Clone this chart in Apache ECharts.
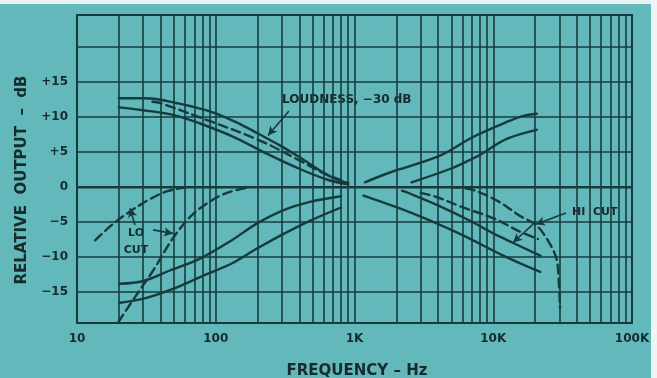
<!DOCTYPE html>
<html><head><meta charset="utf-8">
<script src="https://cdn.jsdelivr.net/npm/echarts@6/dist/echarts.min.js"></script>
<style>html,body{margin:0;padding:0;background:#62b8ba;}#c{width:657px;height:378px;}</style>
</head><body><div id="c"></div>
<script>
// ---- axis ticks / labels ----
const xTickValues = [10,20,30,40,50,60,70,80,90,
  100,200,300,400,500,600,700,800,900,
  1000,2000,3000,4000,5000,6000,7000,8000,9000,
  10000,20000,30000,40000,50000,60000,70000,80000,90000,100000];
const xLabelValues = [10,100,1000,10000,100000];
const xLabelText = ['10','100','1K','10K','100K'];
const yTickValues = [-15,-10,-5,0,5,10,15,20];
const yLabelValues = [-15,-10,-5,0,5,10,15];
const yLabelText = ['\u221215','\u221210','\u22125','0','+5','+10','+15'];

// ---- curves: [frequency Hz, dB] ----
const flatResponse = [[10,0],[100000,0]];
const bassBoostA = [[20,12.7],[30,12.7],[40,12.5],[50,12.1],[65,11.6],[95,10.7],[140,9.3],[200,7.7],[300,5.8],[400,4.3],[630,1.8],[800,0.9],[900,0.5]];
const bassBoostB = [[20,11.4],[30,11.0],[50,10.3],[77,9.1],[134,7.2],[233,4.8],[404,2.6],[632,1.1],[900,0.4]];
const loudness = [[35,12.2],[40,12.0],[81,9.8],[206,6.7],[404,3.8],[600,2.0],[900,0.6]];
const loCutA = [[13.5,-7.6],[18.3,-5.2],[24.8,-3.3],[33.6,-1.7],[44.3,-0.6],[62,0]];
const loCutB = [[19.8,-19.3],[27,-15.3],[35.4,-11.9],[49.5,-7.2],[68.9,-3.8],[101,-1.5],[130,-0.6],[177,0]];
const bassCutA = [[20.3,-13.8],[30,-13.4],[46.7,-11.9],[77,-10.2],[130,-7.6],[197,-5.2],[306,-3.3],[477,-2.1],[800,-1.3]];
const bassCutB = [[20.3,-16.5],[31.7,-15.8],[52.5,-14.3],[80,-12.7],[130,-10.9],[197,-8.8],[306,-6.7],[477,-4.8],[800,-2.9]];
const trebleBoostA = [[1190,0.7],[1800,2.1],[4130,4.5],[7200,7.2],[13200,9.5],[16500,10.2],[20600,10.5]];
const trebleBoostB = [[2580,0.7],[4870,2.6],[6800,3.9],[8000,4.6],[12500,6.9],[20600,8.2]];
const trebleCutA = [[1160,-1.2],[2520,-3.6],[5800,-6.7],[11900,-9.8],[21800,-12.1]];
const trebleCutB = [[2200,-0.5],[2500,-0.9],[4000,-2.6],[6800,-4.8],[10000,-6.6],[13700,-7.9],[22000,-9.8]];
const hiCutA = [[3000,-0.8],[3900,-1.4],[5900,-2.8],[10500,-4.6],[15000,-6.2],[21000,-7.4]];
const hiCutB = [[5000,0],[6900,-0.3],[10600,-1.9],[15600,-4.1],[20600,-5.5],[25600,-8.1],[28600,-10.3],[29600,-13.1],[30300,-17.2]];

// ---- annotation arrows: [[fromF, fromDb],[toF, toDb]] ----
const arrows = [
  [[337,10.9],[238,7.4]],
  [[26.2,-5.4],[24.1,-3.0]],
  [[35.3,-6.1],[49.2,-6.6]],
  [[33400,-3.7],[20300,-5.3]],
  [[19300,-5.3],[13900,-7.9]]
];

const ink = '#173b3c';
const txt = '#182b2c';
const font = 'DejaVu Sans';

function curve(data, dashed, extra) {
  return Object.assign({
    type: 'line', data: data, smooth: 0.35, symbol: 'none', showSymbol: false,
    silent: true, animation: false, z: 3,
    lineStyle: { color: ink, width: 2.4, type: dashed ? [9, 5] : 'solid', cap: 'round' }
  }, extra || {});
}

const chart = echarts.init(document.getElementById('c'), null, { renderer: 'canvas' });
chart.setOption({
  animation: false,
  backgroundColor: '#62b8ba',
  grid: { left: 77, right: 25, top: 15, bottom: 55, show: true, borderColor: ink, borderWidth: 2, backgroundColor: 'transparent' },
  xAxis: {
    type: 'log', logBase: 10, min: 10, max: 100000,
    axisLine: { show: false },
    axisTick: { show: false, customValues: xTickValues },
    minorTick: { show: false }, minorSplitLine: { show: false },
    splitLine: { show: true, lineStyle: { color: ink, width: 1.6 } },
    axisLabel: {
      customValues: xLabelValues, margin: 10, color: txt, fontSize: 12, fontWeight: 'bold', fontFamily: font,
      formatter: function (v) { return xLabelText[Math.round(Math.log10(v)) - 1]; }
    }
  },
  yAxis: {
    type: 'value', min: -19.4, max: 24.6,
    axisLine: { show: false },
    axisTick: { show: false, customValues: yTickValues },
    splitLine: { show: true, lineStyle: { color: ink, width: 1.6 } },
    axisLabel: {
      customValues: yLabelValues, margin: 9, color: txt, fontSize: 12, fontWeight: 'bold', fontFamily: font,
      formatter: function (v) { return yLabelText[yLabelValues.indexOf(Math.round(v))]; }
    }
  },
  series: [
    curve(flatResponse, false, {
      lineStyle: { color: ink, width: 2.6 },
      markLine: {
        silent: true, animation: false, symbol: ['none', 'arrow'], symbolSize: [7, 9],
        label: { show: false },
        lineStyle: { color: ink, width: 1.6, type: 'solid' },
        data: arrows.map(a => [{ coord: a[0] }, { coord: a[1] }])
      }
    }),
    curve(bassBoostA, false), curve(bassBoostB, false), curve(loudness, true),
    curve(loCutA, true), curve(loCutB, true),
    curve(bassCutA, false), curve(bassCutB, false),
    curve(trebleBoostA, false), curve(trebleBoostB, false),
    curve(trebleCutA, false), curve(trebleCutB, false),
    curve(hiCutA, true), curve(hiCutB, true)
  ],
  graphic: [
    { type: 'rect', shape: { x: 0, y: 0, width: 657, height: 4 }, style: { fill: '#e6f3f1' }, silent: true },
    { type: 'rect', shape: { x: 651, y: 0, width: 6, height: 378 }, style: { fill: '#eef6f5' }, silent: true },
    { type: 'text', x: 282, y: 100, style: { text: 'LOUDNESS, \u221230 dB', font: 'bold 12px ' + font, fill: txt, align: 'left', verticalAlign: 'middle' } },
    { type: 'text', x: 136, y: 233, style: { text: 'LO', font: 'bold 11px ' + font, fill: txt, align: 'center', verticalAlign: 'middle' } },
    { type: 'text', x: 136, y: 250, style: { text: 'CUT', font: 'bold 11px ' + font, fill: txt, align: 'center', verticalAlign: 'middle' } },
    { type: 'text', x: 572, y: 212, style: { text: 'HI  CUT', font: 'bold 11px ' + font, fill: txt, align: 'left', verticalAlign: 'middle' } },
    { type: 'text', x: 22, y: 180, rotation: Math.PI / 2, style: { text: 'RELATIVE  OUTPUT  \u2013  dB', font: 'bold 15px ' + font, fill: txt, align: 'center', verticalAlign: 'middle' } },
    { type: 'text', x: 357, y: 371, style: { text: 'FREQUENCY \u2013 Hz', font: 'bold 15px ' + font, fill: txt, align: 'center', verticalAlign: 'middle' } }
  ]
});
</script>
</body></html>
